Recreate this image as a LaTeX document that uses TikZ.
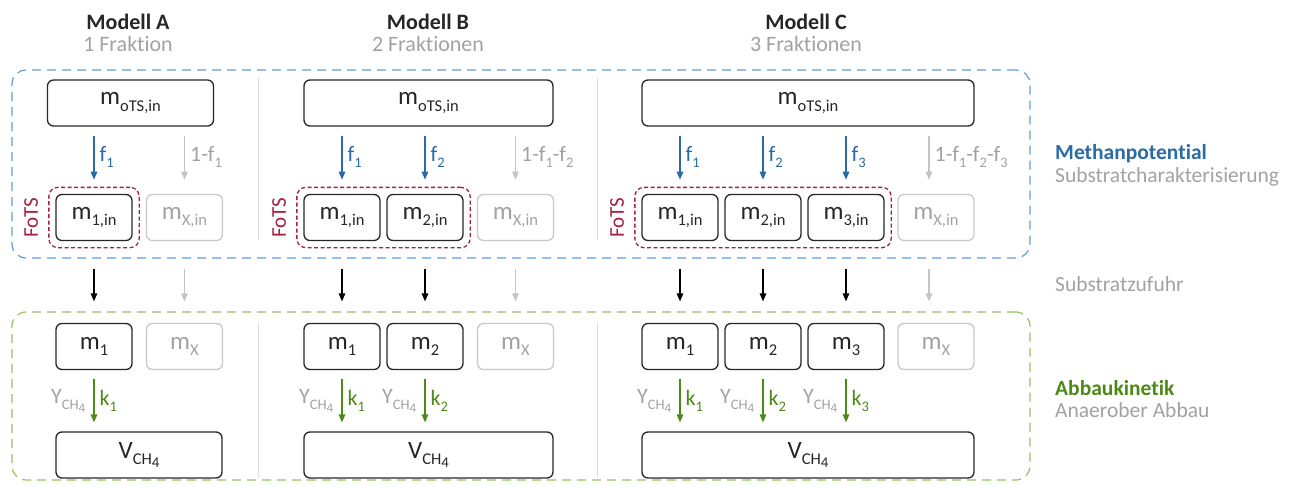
\documentclass[tikz,border=0pt]{standalone}
\usepackage{fontspec}
\setmainfont{Carlito}[Ligatures={NoCommon}]
\usepackage{graphicx}
\usetikzlibrary{arrows.meta,fit,positioning}

\definecolor{dblue}{HTML}{2A6AA6}
\definecolor{lblue}{HTML}{5E9ED6}
\definecolor{dred}{HTML}{A4213F}
\definecolor{dgreen}{HTML}{4C8A15}
\definecolor{lgreen}{HTML}{93C263}
\definecolor{txtgray}{HTML}{A2A2A2}
\definecolor{arrgray}{HTML}{C4C4C4}
\definecolor{boxgray}{HTML}{C8C8C8}
\definecolor{ink}{HTML}{262626}
\definecolor{sepgray}{HTML}{DEDEDE}

% lowered, smaller index text
\newcommand\lo[1]{\raisebox{-0.26em}{\scalebox{0.66}{#1}}}
\newcommand\loo[1]{\raisebox{-0.2em}{\scalebox{0.9}{#1}}}

\tikzset{
  box/.style={draw=ink, line width=1.3pt, rounded corners=6pt, minimum height=46pt,
    inner sep=0pt, font=\fontsize{25}{29}\selectfont, text=ink},
  small/.style={box, minimum width=76pt},
  ghost/.style={small, draw=boxgray, text=txtgray},
  fots/.style={draw=dred, line width=1.3pt, dash pattern=on 4pt off 2.5pt,
    rounded corners=9pt, inner sep=6.5pt},
  fotslabel/.style={text=dred, rotate=90, anchor=south, inner sep=0pt,
    font=\fontsize{21}{25}\selectfont},
  region/.style={line width=1.2pt, dash pattern=on 9pt off 6pt,
    rounded corners=14pt, inner sep=0pt},
  arr/.style={-{Triangle[length=8pt,width=6.5pt]}, line width=1.3pt},
  farr/.style={arr, draw=dblue, shorten <=9pt, shorten >=7pt},
  xarr/.style={arr, draw=arrgray, shorten <=9pt, shorten >=7pt},
  barr/.style={arr, draw=black, shorten <=10pt, shorten >=10pt},
  garr/.style={arr, draw=arrgray, shorten <=10pt, shorten >=10pt},
  karr/.style={arr, draw=dgreen, shorten <=9pt, shorten >=9pt},
  lab/.style={font=\fontsize{22}{26}\selectfont, inner sep=0pt},
  flab/.style={lab, right=5pt, text=dblue},
  xlab/.style={lab, right=5pt, text=txtgray},
  klab/.style={lab, right=5pt, text=dgreen},
  ylab/.style={lab, left=8pt, text=txtgray},
  sep/.style={draw=sepgray, line width=1pt},
  title/.style={anchor=base, font=\bfseries\fontsize{22}{26}\selectfont, text=ink},
  subtitle/.style={anchor=base, font=\fontsize{22}{26}\selectfont, text=txtgray},
  side/.style={anchor=base west, inner sep=0pt, font=\fontsize{21.5}{25}\selectfont, text=txtgray},
}

\begin{document}
\begin{tikzpicture}[x=1pt, y=-1pt]
\useasboundingbox (0,0) rectangle (1295,485);

% ---------- column headings ----------
\node[title]    (tA) at (128,29) {Modell A};
\node[subtitle] (sA) at (128,51) {1 Fraktion};
\node[title]    (tB) at (428,29) {Modell B};
\node[subtitle] (sB) at (428,51) {2 Fraktionen};
\node[title]    (tC) at (806,29) {Modell C};
\node[subtitle] (sC) at (806,51) {3 Fraktionen};

% ---------- dashed stage frames ----------
\node[region, draw=lblue, minimum width=1018pt, minimum height=188pt] (meth) at (521,164) {};
\node[region, draw=lgreen, minimum width=1018pt, minimum height=168pt] (kin) at (521,396) {};

% column separators
\coordinate (s1t) at (258,78);  \coordinate (s1b) at (258,240);
\coordinate (s2t) at (597,78);  \coordinate (s2b) at (597,240);
\coordinate (s3t) at (258,322); \coordinate (s3b) at (258,478);
\coordinate (s4t) at (597,322); \coordinate (s4b) at (597,478);
\draw[sep] (s1t) -- (s1b);
\draw[sep] (s2t) -- (s2b);
\draw[sep] (s3t) -- (s3b);
\draw[sep] (s4t) -- (s4b);

% ---------- Modell A ----------
\node[box, minimum width=166pt] (Amo) at (130.5,103) {m\lo{oTS,in}};
\node[small] (A1in) at (94,217.5)   {m\lo{1,in}};
\node[ghost] (AXin) at (184.5,217.5) {m\lo{X,in}};
\node[fots, fit=(A1in)] (FA) {};
\node[fotslabel] at ([xshift=-10pt]FA.west) {FoTS};

\draw[farr] (Amo.south -| A1in) -- (FA.north -| A1in) node[midway, flab] {f\lo{1}};
\draw[xarr] (Amo.south -| AXin) -- (FA.north -| AXin) node[midway, xlab] {1-f\lo{1}};

\node[small] (Am1) at (94,346.5)    {m\lo{1}};
\node[ghost] (AmX) at (184.5,346.5) {m\lo{X}};
\node[box, minimum width=166pt] (AV) at (139,455) {V\lo{CH\loo{4}}};

\draw[barr] (meth.south -| A1in) -- (kin.north -| A1in);
\draw[garr] (meth.south -| AXin) -- (kin.north -| AXin);

\draw[karr] (Am1.south) -- (AV.north -| Am1)
  node[midway, klab] {k\lo{1}} node[midway, ylab] {Y\lo{CH\loo{4}}};

% ---------- Modell B ----------
\node[box, minimum width=249pt] (Bmo) at (428.5,103) {m\lo{oTS,in}};
\node[small] (B1in) at (342,217.5)   {m\lo{1,in}};
\node[small] (B2in) at (425,217.5)   {m\lo{2,in}};
\node[ghost] (BXin) at (515.5,217.5) {m\lo{X,in}};
\node[fots, fit=(B1in)(B2in)] (FB) {};
\node[fotslabel] at ([xshift=-10pt]FB.west) {FoTS};

\draw[farr] (Bmo.south -| B1in) -- (FB.north -| B1in) node[midway, flab] {f\lo{1}};
\draw[farr] (Bmo.south -| B2in) -- (FB.north -| B2in) node[midway, flab] {f\lo{2}};
\draw[xarr] (Bmo.south -| BXin) -- (FB.north -| BXin) node[midway, xlab] {1-f\lo{1}-f\lo{2}};

\node[small] (Bm1) at (342,346.5)   {m\lo{1}};
\node[small] (Bm2) at (425,346.5)   {m\lo{2}};
\node[ghost] (BmX) at (515.5,346.5) {m\lo{X}};
\node[box, minimum width=249pt] (BV) at (428.5,455) {V\lo{CH\loo{4}}};

\draw[barr] (meth.south -| B1in) -- (kin.north -| B1in);
\draw[barr] (meth.south -| B2in) -- (kin.north -| B2in);
\draw[garr] (meth.south -| BXin) -- (kin.north -| BXin);

\draw[karr] (Bm1.south) -- (BV.north -| Bm1)
  node[midway, klab] {k\lo{1}} node[midway, ylab] {Y\lo{CH\loo{4}}};
\draw[karr] (Bm2.south) -- (BV.north -| Bm2)
  node[midway, klab] {k\lo{2}} node[midway, ylab] {Y\lo{CH\loo{4}}};

% ---------- Modell C ----------
\node[box, minimum width=332pt] (Cmo) at (808,103) {m\lo{oTS,in}};
\node[small] (C1in) at (680,217.5) {m\lo{1,in}};
\node[small] (C2in) at (763,217.5) {m\lo{2,in}};
\node[small] (C3in) at (846,217.5) {m\lo{3,in}};
\node[ghost] (CXin) at (936,217.5) {m\lo{X,in}};
\node[fots, fit=(C1in)(C3in)] (FC) {};
\node[fotslabel] at ([xshift=-10pt]FC.west) {FoTS};
\coordinate (CXa) at ([xshift=-7pt]CXin.center);

\draw[farr] (Cmo.south -| C1in) -- (FC.north -| C1in) node[midway, flab] {f\lo{1}};
\draw[farr] (Cmo.south -| C2in) -- (FC.north -| C2in) node[midway, flab] {f\lo{2}};
\draw[farr] (Cmo.south -| C3in) -- (FC.north -| C3in) node[midway, flab] {f\lo{3}};
\draw[xarr] (Cmo.south -| CXa) -- (FC.north -| CXa) node[midway, xlab] {1-f\lo{1}-f\lo{2}-f\lo{3}};

\node[small] (Cm1) at (680,346.5) {m\lo{1}};
\node[small] (Cm2) at (763,346.5) {m\lo{2}};
\node[small] (Cm3) at (846,346.5) {m\lo{3}};
\node[ghost] (CmX) at (936,346.5) {m\lo{X}};
\node[box, minimum width=332pt] (CV) at (808,455) {V\lo{CH\loo{4}}};

\draw[barr] (meth.south -| C1in) -- (kin.north -| C1in);
\draw[barr] (meth.south -| C2in) -- (kin.north -| C2in);
\draw[barr] (meth.south -| C3in) -- (kin.north -| C3in);
\draw[garr] (meth.south -| CXa) -- (kin.north -| CXa);

\draw[karr] (Cm1.south) -- (CV.north -| Cm1)
  node[midway, klab] {k\lo{1}} node[midway, ylab] {Y\lo{CH\loo{4}}};
\draw[karr] (Cm2.south) -- (CV.north -| Cm2)
  node[midway, klab] {k\lo{2}} node[midway, ylab] {Y\lo{CH\loo{4}}};
\draw[karr] (Cm3.south) -- (CV.north -| Cm3)
  node[midway, klab] {k\lo{3}} node[midway, ylab] {Y\lo{CH\loo{4}}};

% ---------- stage captions ----------
\node[side, text=dblue, font=\bfseries\fontsize{21.5}{25}\selectfont] (r1) at (1055,159) {Methanpotential};
\node[side] (r2) at (1055,182) {Substratcharakterisierung};
\node[side] (r3) at (1055,291) {Substratzufuhr};
\node[side, text=dgreen, font=\bfseries\fontsize{21.5}{25}\selectfont] (r4) at (1055,395) {Abbaukinetik};
\node[side] (r5) at (1055,417) {Anaerober Abbau};
\end{tikzpicture}
\end{document}
